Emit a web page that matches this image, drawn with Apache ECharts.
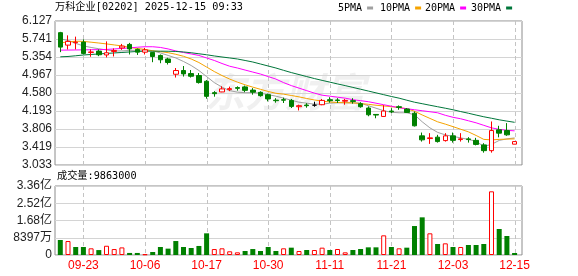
<!DOCTYPE html>
<html><head><meta charset="utf-8">
<script src="https://cdn.jsdelivr.net/npm/echarts@6/dist/echarts.min.js"></script>
<style>html,body{margin:0;padding:0;background:#fff}#c{width:578px;height:276px}</style>
</head><body><div id="c"></div>
<script>
const dates = ['09-18','09-19','09-22','09-23','09-24','09-25','09-26','09-29','09-30','10-02',
'10-03','10-06','10-08','10-09','10-10','10-13','10-14','10-15','10-16','10-17',
'10-20','10-21','10-22','10-23','10-24','10-27','10-28','10-30','10-31','11-03',
'11-04','11-05','11-06','11-07','11-10','11-11','11-12','11-13','11-14','11-17',
'11-18','11-19','11-20','11-21','11-24','11-25','11-26','11-27','11-28','12-01',
'12-02','12-03','12-04','12-05','12-08','12-09','12-10','12-11','12-12','12-15'];
const openP = [5.877,5.609,5.661,5.674,5.452,5.480,5.398,5.473,5.549,5.624,
5.516,5.458,5.452,5.387,5.311,4.983,5.063,4.998,4.955,4.832,
4.588,4.603,4.652,4.696,4.711,4.642,4.594,4.544,4.426,4.436,
4.421,4.285,4.322,4.318,4.328,4.436,4.430,4.404,4.415,4.350,
4.257,4.119,4.076,4.192,4.285,4.236,4.145,3.659,3.601,3.631,
3.557,3.659,3.579,3.594,3.562,3.465,3.341,3.789,3.773,3.480];
const closeP = [5.566,5.689,5.674,5.430,5.462,5.402,5.445,5.495,5.588,5.527,
5.458,5.506,5.365,5.294,5.236,5.063,4.991,4.940,4.804,4.508,
4.566,4.668,4.674,4.680,4.637,4.598,4.523,4.452,4.415,4.426,
4.292,4.307,4.307,4.318,4.421,4.415,4.419,4.421,4.400,4.285,
4.112,4.106,4.192,4.177,4.270,4.162,3.875,3.573,3.616,3.536,
3.659,3.562,3.594,3.579,3.475,3.341,3.773,3.717,3.681,3.536];
const lowP = [5.458,5.516,5.516,5.408,5.359,5.372,5.344,5.365,5.506,5.408,
5.398,5.408,5.242,5.220,5.192,4.912,4.933,4.912,4.782,4.458,
4.501,4.598,4.620,4.631,4.598,4.544,4.501,4.400,4.372,4.365,
4.257,4.205,4.264,4.285,4.318,4.372,4.365,4.328,4.350,4.264,
4.080,4.037,4.069,4.149,4.220,4.149,3.860,3.536,3.486,3.514,
3.536,3.514,3.536,3.514,3.454,3.298,3.298,3.627,3.659,3.480];
const highP = [5.894,5.819,5.791,5.732,5.516,5.516,5.689,5.538,5.635,5.657,
5.538,5.549,5.462,5.408,5.337,5.117,5.160,5.074,5.009,4.858,
4.620,4.724,4.717,4.724,4.739,4.685,4.616,4.566,4.469,4.480,
4.452,4.328,4.361,4.393,4.452,4.490,4.469,4.452,4.469,4.382,
4.292,4.123,4.318,4.253,4.313,4.257,4.184,3.730,3.717,3.681,
3.717,3.730,3.717,3.631,3.616,3.501,3.968,3.875,3.933,3.536];
const ma5 = [5.743,5.711,5.646,5.592,5.559,5.531,5.505,5.484,5.484,5.495,
5.499,5.505,5.484,5.441,5.387,5.333,5.257,5.171,5.063,4.933,
4.803,4.706,4.631,4.598,4.587,4.587,4.577,4.544,4.512,4.469,
4.425,4.382,4.361,4.339,4.339,4.361,4.371,4.371,4.371,4.361,
4.307,4.253,4.199,4.166,4.155,4.155,4.112,3.961,3.831,3.734,
3.680,3.648,3.615,3.583,3.540,3.432,3.475,3.561,3.594,3.615];
const ma10 = [5.657,5.678,5.693,5.689,5.672,5.654,5.635,5.613,5.592,5.559,
5.538,5.516,5.488,5.469,5.447,5.412,5.369,5.311,5.235,5.138,
5.041,4.955,4.879,4.814,4.756,4.706,4.659,4.613,4.574,4.555,
4.527,4.497,4.462,4.430,4.406,4.386,4.376,4.371,4.367,4.354,
4.337,4.317,4.302,4.285,4.268,4.242,4.188,4.108,4.034,3.961,
3.911,3.857,3.801,3.745,3.667,3.583,3.572,3.583,3.589,3.594];
const ma20 = [5.501,5.503,5.505,5.507,5.510,5.512,5.516,5.527,5.538,5.549,
5.564,5.574,5.574,5.559,5.527,5.484,5.451,5.419,5.387,5.333,
5.279,5.214,5.155,5.117,5.073,5.030,4.987,4.933,4.879,4.803,
4.739,4.685,4.631,4.577,4.533,4.512,4.490,4.469,4.436,4.415,
4.393,4.361,4.328,4.296,4.263,4.242,4.220,4.199,4.177,4.155,
4.101,4.058,4.026,3.983,3.939,3.885,3.831,3.799,3.777,3.767];
const ma30 = [5.358,5.365,5.380,5.397,5.408,5.419,5.430,5.441,5.451,5.462,
5.473,5.479,5.479,5.479,5.477,5.473,5.462,5.445,5.423,5.402,
5.376,5.354,5.333,5.311,5.279,5.246,5.203,5.160,5.117,5.067,
5.019,4.976,4.933,4.890,4.851,4.814,4.775,4.739,4.700,4.661,
4.622,4.583,4.544,4.505,4.469,4.425,4.382,4.350,4.317,4.285,
4.253,4.220,4.181,4.145,4.106,4.069,4.037,4.004,3.976,3.950];
const volume = [73000000,68000000,39000000,39000000,32500000,24000000,45000000,29000000,37000000,10000000,
10000000,3400000,14600000,39000000,31000000,68000000,39000000,34000000,44000000,105500000,
29000000,32500000,18000000,13000000,19500000,29000000,19500000,39000000,19500000,32500000,
35700000,19500000,24300000,24300000,35700000,24300000,29200000,13000000,24300000,29200000,
37300000,37300000,95700000,39000000,32500000,35700000,141000000,183300000,105500000,53500000,
56800000,39000000,39000000,48700000,48700000,53500000,310000000,126600000,92500000,9863000];
const volUp = [0,1,0,0,1,0,1,1,1,0, 0,1,0,0,0,0,0,0,0,0, 1,1,1,1,0,0,0,0,0,1,
0,1,0,1,1,0,1,1,0,0, 0,0,1,0,1,0,0,0,1,0, 1,0,1,0,0,0,1,0,0,0];
const priceTicks = ['3.033','3.419','3.806','4.193','4.580','4.967','5.354','5.741','6.127'];
const volTicks = ['0','8397万','1.68亿','2.52亿','3.36亿'];
const priceMin = 3.0326, priceMax = 6.1274;
const volMax = 335880000;
const labelStart = 3, labelEvery = 8;
const maNames = ['5PMA', '10PMA', '20PMA', '30PMA'];
const maColors = ['#a0a0a0', '#f5a300', '#ff00ff', '#00763a'];
const titleText = '万科企业[02202] 2025-12-15 09:33';
const volTitle = '成交量:9863000';

const RED = '#ff0000', GREEN = '#008000';
const monoCJK = '"DejaVu Sans Mono","Noto Sans CJK SC",monospace';
const numFont = '"Liberation Sans","Noto Sans CJK SC",sans-serif';

const N = dates.length;
const band = 7.7;
const dataLeft = 56.45;

const candleData = openP.map((o, i) => {
  const item = { value: [o, closeP[i], lowP[i], highP[i]] };
  if (o === closeP[i]) item.itemStyle = { color: '#000', color0: '#000', borderColor: '#000', borderColor0: '#000' };
  return item;
});
const volData = volume.map((v, i) => ({
  value: v,
  itemStyle: volUp[i] ? { color: '#fff', borderColor: RED, borderWidth: 1 } : { color: GREEN, borderWidth: 0 }
}));

const catInterval = (i) => (i - labelStart) % labelEvery === 0;
const gridLineIdx = dates.map((d, i) => i).filter(catInterval);
const vLineRender = (params, api) => {
  const cs = params.coordSys;
  const x = Math.round(api.coord([api.value(0), 0])[0]) + 0.5;
  return {
    type: 'line', silent: true,
    shape: { x1: x, y1: cs.y, x2: x, y2: cs.y + cs.height },
    style: { stroke: '#c4c4c4', lineWidth: 1, lineDash: [4, 3] }
  };
};
const solidSplit = { show: true, lineStyle: { color: '#d4d4d4', width: 1 } };
const legendLefts = [338, 380, 425, 471];

const chart = echarts.init(document.getElementById('c'), null, { renderer: 'canvas' });
chart.setOption({
  animation: false,
  backgroundColor: '#fff',
  title: [
    { text: titleText, left: 55, top: 2, padding: 0, textStyle: { fontSize: 10.2, fontWeight: 'normal', color: '#000', fontFamily: monoCJK } },
    { text: volTitle, left: 57, top: 171, padding: 0, textStyle: { fontSize: 10.2, fontWeight: 'normal', color: '#000', fontFamily: monoCJK } }
  ],
  legend: maNames.map((n, k) => ({
    data: [n], left: legendLefts[k], top: 3, padding: 0, align: 'right', icon: 'rect',
    itemWidth: 6, itemHeight: 3, textStyle: { fontSize: 10, color: '#000', fontFamily: monoCJK }
  })),
  graphic: [{
    type: 'text', left: 205, top: 72, z: -10, silent: true,
    style: { text: '东方财富', fill: 'rgba(0,0,0,0.06)', font: 'italic bold 40px "Noto Sans CJK SC"' }
  }],
  grid: [
    { left: 55, top: 21, width: 467, height: 144, show: true, borderColor: '#8c8c8c', borderWidth: 1, backgroundColor: 'transparent' },
    { left: dataLeft, top: 21, width: N * band, height: 144 },
    { left: 55, top: 186, width: 467, height: 69, show: true, borderColor: '#8c8c8c', borderWidth: 1, backgroundColor: 'transparent' },
    { left: dataLeft, top: 186, width: N * band, height: 69 }
  ],
  xAxis: [
    { gridIndex: 0, type: 'value', min: 0, max: 1, show: false },
    { gridIndex: 1, type: 'category', data: dates, boundaryGap: true,
      axisLine: { show: false }, axisTick: { show: false }, axisLabel: { show: false }, splitLine: { show: false } },
    { gridIndex: 2, type: 'value', min: 0, max: 1, show: false },
    { gridIndex: 3, type: 'category', data: dates, boundaryGap: true,
      axisLine: { show: false }, axisTick: { show: false },
      axisLabel: { interval: catInterval, color: RED, fontSize: 12, margin: 5, fontFamily: numFont },
      splitLine: { show: false } }
  ],
  yAxis: [
    { gridIndex: 0, type: 'value', min: 0, max: priceTicks.length - 1, interval: 1,
      axisLine: { show: false }, axisTick: { show: false }, splitLine: solidSplit,
      axisLabel: { margin: 3, color: '#222', fontSize: 12, fontFamily: numFont, formatter: (v) => priceTicks[Math.round(v)] } },
    { gridIndex: 1, type: 'value', min: priceMin, max: priceMax, show: false },
    { gridIndex: 2, type: 'value', min: 0, max: volTicks.length - 1, interval: 1,
      axisLine: { show: false }, axisTick: { show: false }, splitLine: solidSplit,
      axisLabel: { margin: 3, color: '#222', fontSize: 12, fontFamily: numFont, formatter: (v) => volTicks[Math.round(v)] } },
    { gridIndex: 3, type: 'value', min: 0, max: volMax, show: false }
  ],
  series: [
    { type: 'custom', name: 'vgridP', xAxisIndex: 1, yAxisIndex: 1, z: 1, silent: true, clip: false,
      renderItem: vLineRender, data: gridLineIdx.map((i) => [i]) },
    { type: 'custom', name: 'vgridV', xAxisIndex: 3, yAxisIndex: 3, z: 1, silent: true, clip: false,
      renderItem: vLineRender, data: gridLineIdx.map((i) => [i]) },
    { type: 'candlestick', name: 'K', xAxisIndex: 1, yAxisIndex: 1, barWidth: 5, data: candleData, z: 5,
      itemStyle: { color: '#fff', color0: GREEN, borderColor: RED, borderColor0: GREEN, borderWidth: 1 } },
    { type: 'line', name: maNames[0], xAxisIndex: 1, yAxisIndex: 1, data: ma5, symbol: 'none', color: maColors[0], lineStyle: { width: 1 }, z: 4 },
    { type: 'line', name: maNames[1], xAxisIndex: 1, yAxisIndex: 1, data: ma10, symbol: 'none', color: maColors[1], lineStyle: { width: 1 }, z: 4 },
    { type: 'line', name: maNames[2], xAxisIndex: 1, yAxisIndex: 1, data: ma20, symbol: 'none', color: maColors[2], lineStyle: { width: 1 }, z: 4 },
    { type: 'line', name: maNames[3], xAxisIndex: 1, yAxisIndex: 1, data: ma30, symbol: 'none', color: maColors[3], lineStyle: { width: 1 }, z: 4 },
    { type: 'bar', name: 'VOL', xAxisIndex: 3, yAxisIndex: 3, barWidth: 5, data: volData, z: 5 }
  ]
});
</script></body></html>
